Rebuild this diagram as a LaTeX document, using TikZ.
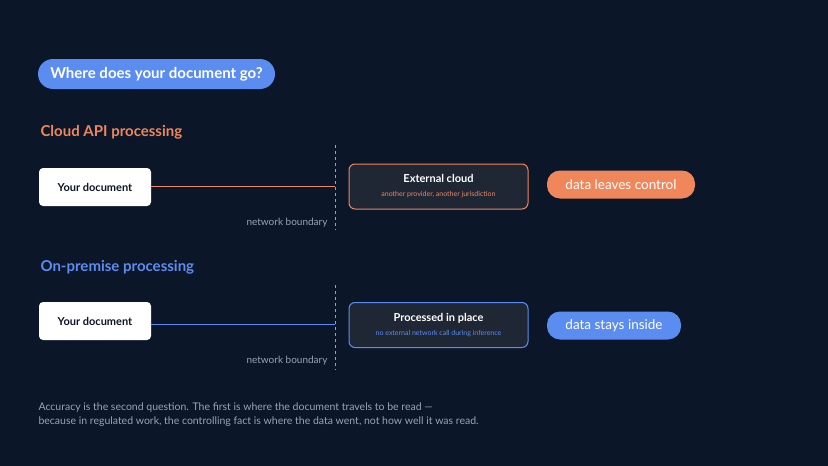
\documentclass[tikz,border=0pt]{standalone}
\usepackage{fontspec}
\setmainfont{Lato}
\usetikzlibrary{positioning}
\definecolor{bgnavy}{HTML}{0B1628}
\definecolor{cardfill}{HTML}{1F2735}
\definecolor{cloudorange}{HTML}{F0875A}
\definecolor{premblue}{HTML}{5B8DF0}
\definecolor{mutedgray}{HTML}{9AA3B5}
\definecolor{doctext}{HTML}{0B1628}

\begin{document}
\begin{tikzpicture}[
  x=1pt, y=-1pt,
  pill/.style={rounded corners=13pt, text=white, inner sep=0pt, minimum height=28pt},
  docbox/.style={fill=white, rounded corners=4pt, minimum width=112pt, minimum height=38pt, text=doctext, font=\fontsize{11}{13}\selectfont\bfseries},
  card/.style={draw, line width=1pt, fill=cardfill, rounded corners=6pt, minimum width=179pt, minimum height=45pt, align=center},
  boundary/.style={dashed, mutedgray, line width=0.8pt},
  heading/.style={anchor=west, font=\fontsize{15}{18}\selectfont\bfseries},
  note/.style={text=mutedgray, font=\fontsize{10}{12}\selectfont}
]

% Background
\fill[bgnavy] (0,0) rectangle (828,466);

% Title pill
\node[pill, fill=premblue, minimum width=237pt, minimum height=30pt, rounded corners=15pt, font=\fontsize{15}{18}\selectfont\bfseries] (title) at (156.5,74) {Where does your document go?};

% Cloud API row
\node[heading, text=cloudorange] (cloudhead) at (37,132) {Cloud API processing};
\node[docbox] (clouddoc) at (95,187) {Your document};
\coordinate (cloudcut) at (335,186);
\draw[boundary] (335,145) -- (335,230);
\node[note, anchor=east] (cloudnb) at (331,223) {network boundary};
\draw[cloudorange, line width=0.8pt] (clouddoc.east |- cloudcut) -- (cloudcut);
\node[card, draw=cloudorange] (extcloud) at (438.5,186.5) {\textcolor{white}{\fontsize{11}{13}\selectfont\bfseries External cloud}\\[2pt]\textcolor{cloudorange}{\fontsize{7}{9}\selectfont another provider, another jurisdiction}};
\node[pill, fill=cloudorange, minimum width=148pt, font=\fontsize{13.5}{16}\selectfont] (leaves) at (621,184.5) {data leaves control};

% On-premise row
\node[heading, text=premblue] (premhead) at (37,267) {On-premise processing};
\node[docbox] (premdoc) at (95,321) {Your document};
\coordinate (premcut) at (335,324);
\draw[boundary] (335,285) -- (335,370);
\node[note, anchor=east] (premnb) at (331,361) {network boundary};
\draw[premblue, line width=0.8pt] (premdoc.east |- premcut) -- (premcut);
\node[card, draw=premblue] (inplace) at (438.5,325) {\textcolor{white}{\fontsize{11}{13}\selectfont\bfseries Processed in place}\\[2pt]\textcolor{premblue}{\fontsize{7}{9}\selectfont no external network call during inference}};
\node[pill, fill=premblue, minimum width=134pt, font=\fontsize{13.5}{16}\selectfont] (stays) at (614,325.5) {data stays inside};

% Footer
\node[note, anchor=north west, align=left, font=\fontsize{10.5}{14.5}\selectfont] (footer) at (35,399) {Accuracy is the second question. The first is where the document travels to be read —\\because in regulated work, the controlling fact is where the data went, not how well it was read.};

\end{tikzpicture}
\end{document}
